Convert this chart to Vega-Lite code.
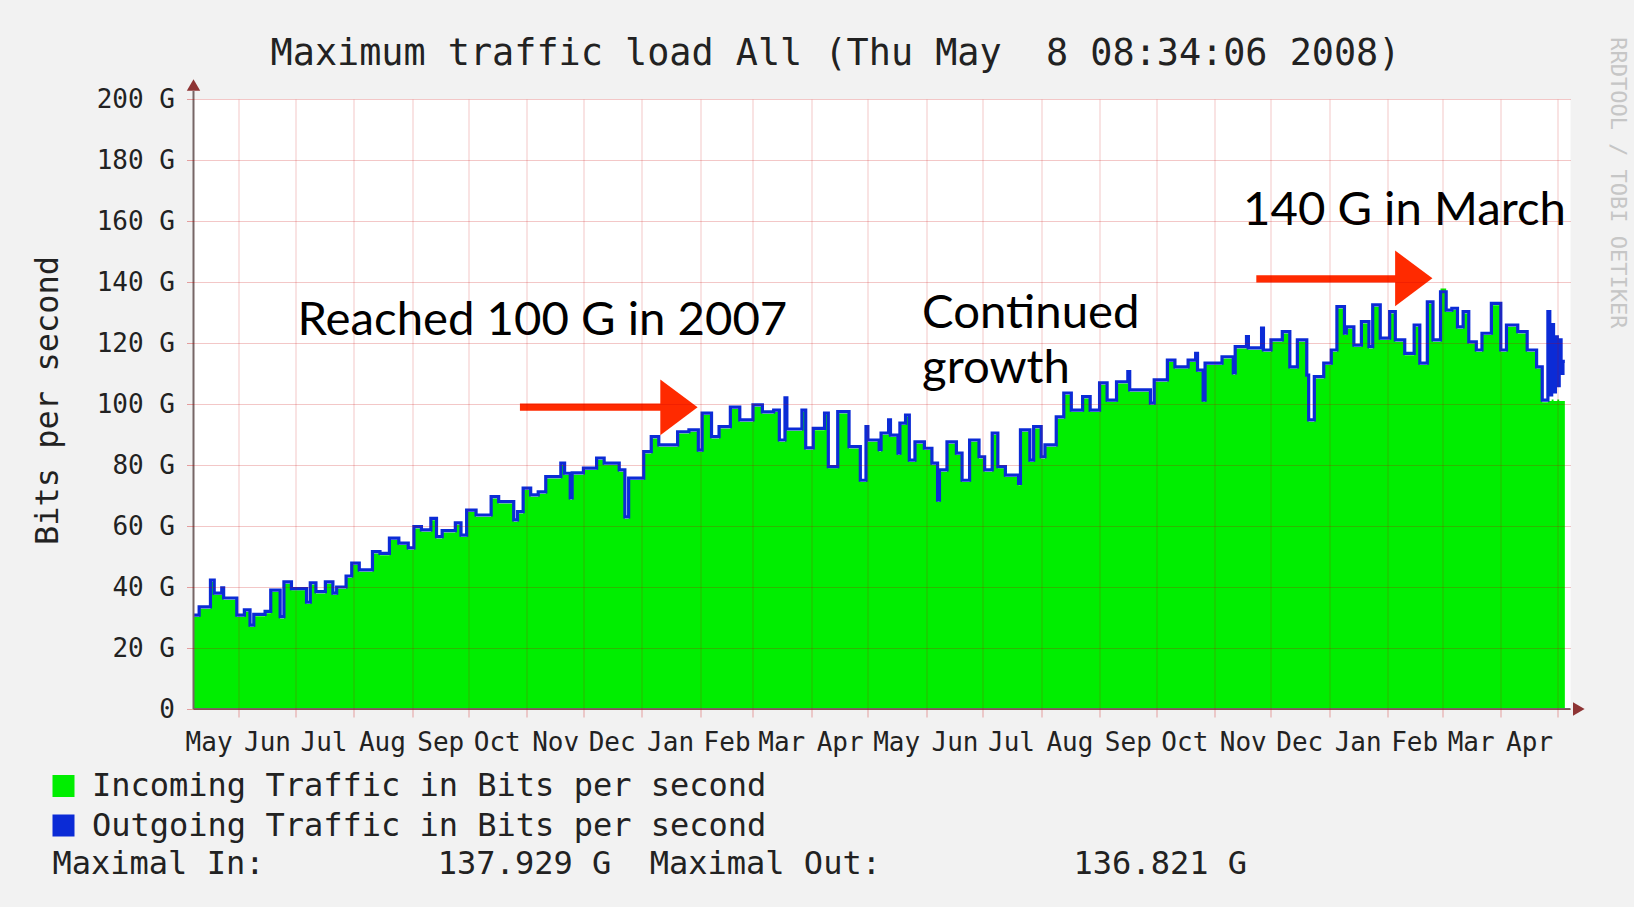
{
"$schema": "https://vega.github.io/schema/vega-lite/v6.json",
"width": 1377,
"height": 610,
"autosize": {"type": "none"},
"padding": {"left": 193.5, "top": 99, "right": 63.5, "bottom": 198},
"background": "#f2f2f2",
"config": {"view": {"fill": "#ffffff", "stroke": null}},
"title": {"text": "Maximum traffic load All (Thu May\u00a0 8 08:34:06 2008)", "font": "DejaVu Sans Mono", "fontSize": 36.8, "fontWeight": "normal", "color": "#222222", "anchor": "middle", "frame": "group", "dx": -46.5, "baseline": "alphabetic", "offset": -65},
"datasets": {
"traffic": [
{"date":"2006-05-08","incoming":30.2,"outgoing":30.8},
{"date":"2006-05-11","incoming":32.9,"outgoing":33.5},
{"date":"2006-05-17","incoming":41.7,"outgoing":42.3},
{"date":"2006-05-19","incoming":37.4,"outgoing":38.0},
{"date":"2006-05-23","incoming":39.1,"outgoing":39.7},
{"date":"2006-05-24","incoming":35.8,"outgoing":36.4},
{"date":"2006-05-31","incoming":30.2,"outgoing":30.8},
{"date":"2006-06-04","incoming":31.9,"outgoing":32.5},
{"date":"2006-06-07","incoming":26.9,"outgoing":27.5},
{"date":"2006-06-09","incoming":30.4,"outgoing":31.0},
{"date":"2006-06-15","incoming":31.4,"outgoing":32.0},
{"date":"2006-06-18","incoming":38.4,"outgoing":39.0},
{"date":"2006-06-23","incoming":29.7,"outgoing":30.3},
{"date":"2006-06-25","incoming":41.1,"outgoing":41.7},
{"date":"2006-06-29","incoming":38.9,"outgoing":39.5},
{"date":"2006-07-07","incoming":34.4,"outgoing":35.0},
{"date":"2006-07-09","incoming":40.8,"outgoing":41.4},
{"date":"2006-07-12","incoming":37.9,"outgoing":38.5},
{"date":"2006-07-17","incoming":41.1,"outgoing":41.7},
{"date":"2006-07-21","incoming":37.4,"outgoing":38.0},
{"date":"2006-07-23","incoming":39.4,"outgoing":40.0},
{"date":"2006-07-28","incoming":43.0,"outgoing":43.6},
{"date":"2006-07-31","incoming":47.2,"outgoing":47.8},
{"date":"2006-08-04","incoming":45.0,"outgoing":45.6},
{"date":"2006-08-11","incoming":51.0,"outgoing":51.6},
{"date":"2006-08-15","incoming":50.4,"outgoing":51.0},
{"date":"2006-08-20","incoming":55.4,"outgoing":56.0},
{"date":"2006-08-25","incoming":53.8,"outgoing":54.4},
{"date":"2006-08-30","incoming":52.2,"outgoing":52.8},
{"date":"2006-09-02","incoming":59.2,"outgoing":59.8},
{"date":"2006-09-06","incoming":58.1,"outgoing":58.7},
{"date":"2006-09-11","incoming":61.9,"outgoing":62.5},
{"date":"2006-09-14","incoming":55.9,"outgoing":56.5},
{"date":"2006-09-17","incoming":57.9,"outgoing":58.5},
{"date":"2006-09-24","incoming":60.4,"outgoing":61.0},
{"date":"2006-09-27","incoming":56.4,"outgoing":57.0},
{"date":"2006-09-30","incoming":64.6,"outgoing":65.2},
{"date":"2006-10-05","incoming":63.0,"outgoing":63.6},
{"date":"2006-10-13","incoming":69.0,"outgoing":69.6},
{"date":"2006-10-17","incoming":67.4,"outgoing":68.0},
{"date":"2006-10-25","incoming":61.4,"outgoing":62.0},
{"date":"2006-10-27","incoming":64.1,"outgoing":64.7},
{"date":"2006-10-30","incoming":71.8,"outgoing":72.4},
{"date":"2006-11-03","incoming":69.6,"outgoing":70.2},
{"date":"2006-11-07","incoming":70.6,"outgoing":71.2},
{"date":"2006-11-11","incoming":75.6,"outgoing":76.2},
{"date":"2006-11-19","incoming":80.0,"outgoing":80.6},
{"date":"2006-11-21","incoming":76.7,"outgoing":77.3},
{"date":"2006-11-24","incoming":68.6,"outgoing":69.2},
{"date":"2006-11-25","incoming":76.8,"outgoing":77.4},
{"date":"2006-12-01","incoming":78.4,"outgoing":79.0},
{"date":"2006-12-08","incoming":81.7,"outgoing":82.3},
{"date":"2006-12-12","incoming":80.0,"outgoing":80.6},
{"date":"2006-12-20","incoming":77.8,"outgoing":78.4},
{"date":"2006-12-23","incoming":62.4,"outgoing":63.0},
{"date":"2006-12-25","incoming":75.1,"outgoing":75.7},
{"date":"2007-01-02","incoming":83.8,"outgoing":84.4},
{"date":"2007-01-06","incoming":88.7,"outgoing":89.3},
{"date":"2007-01-10","incoming":86.0,"outgoing":86.6},
{"date":"2007-01-20","incoming":90.3,"outgoing":90.9},
{"date":"2007-01-26","incoming":90.9,"outgoing":91.5},
{"date":"2007-01-31","incoming":84.3,"outgoing":84.9},
{"date":"2007-02-02","incoming":96.4,"outgoing":97.0},
{"date":"2007-02-07","incoming":88.7,"outgoing":89.3},
{"date":"2007-02-11","incoming":92.0,"outgoing":92.6},
{"date":"2007-02-17","incoming":98.4,"outgoing":99.0},
{"date":"2007-02-22","incoming":94.2,"outgoing":94.8},
{"date":"2007-03-01","incoming":99.1,"outgoing":99.7},
{"date":"2007-03-06","incoming":96.8,"outgoing":97.4},
{"date":"2007-03-12","incoming":97.4,"outgoing":98.0},
{"date":"2007-03-15","incoming":87.6,"outgoing":88.2},
{"date":"2007-03-18","incoming":101.4,"outgoing":102.0},
{"date":"2007-03-19","incoming":91.2,"outgoing":91.8},
{"date":"2007-03-27","incoming":97.4,"outgoing":98.0},
{"date":"2007-03-29","incoming":85.0,"outgoing":85.6},
{"date":"2007-04-02","incoming":91.4,"outgoing":92.0},
{"date":"2007-04-08","incoming":96.4,"outgoing":97.0},
{"date":"2007-04-10","incoming":78.9,"outgoing":79.5},
{"date":"2007-04-15","incoming":96.9,"outgoing":97.5},
{"date":"2007-04-21","incoming":85.4,"outgoing":86.0},
{"date":"2007-04-27","incoming":74.4,"outgoing":75.0},
{"date":"2007-04-30","incoming":92.0,"outgoing":92.6},
{"date":"2007-05-01","incoming":87.6,"outgoing":88.2},
{"date":"2007-05-07","incoming":84.4,"outgoing":85.0},
{"date":"2007-05-08","incoming":89.9,"outgoing":90.5},
{"date":"2007-05-12","incoming":94.2,"outgoing":94.8},
{"date":"2007-05-13","incoming":89.2,"outgoing":89.8},
{"date":"2007-05-17","incoming":83.3,"outgoing":83.9},
{"date":"2007-05-18","incoming":93.1,"outgoing":93.7},
{"date":"2007-05-21","incoming":95.8,"outgoing":96.4},
{"date":"2007-05-23","incoming":81.0,"outgoing":81.6},
{"date":"2007-05-26","incoming":87.0,"outgoing":87.6},
{"date":"2007-05-31","incoming":84.9,"outgoing":85.5},
{"date":"2007-06-04","incoming":80.0,"outgoing":80.6},
{"date":"2007-06-07","incoming":67.9,"outgoing":68.5},
{"date":"2007-06-08","incoming":77.8,"outgoing":78.4},
{"date":"2007-06-12","incoming":87.0,"outgoing":87.6},
{"date":"2007-06-17","incoming":83.3,"outgoing":83.9},
{"date":"2007-06-20","incoming":74.4,"outgoing":75.0},
{"date":"2007-06-24","incoming":87.6,"outgoing":88.2},
{"date":"2007-06-29","incoming":82.1,"outgoing":82.7},
{"date":"2007-07-02","incoming":77.8,"outgoing":78.4},
{"date":"2007-07-06","incoming":89.9,"outgoing":90.5},
{"date":"2007-07-09","incoming":78.9,"outgoing":79.5},
{"date":"2007-07-13","incoming":76.1,"outgoing":76.7},
{"date":"2007-07-20","incoming":73.4,"outgoing":74.0},
{"date":"2007-07-21","incoming":90.9,"outgoing":91.5},
{"date":"2007-07-26","incoming":81.0,"outgoing":81.6},
{"date":"2007-07-28","incoming":92.0,"outgoing":92.6},
{"date":"2007-08-01","incoming":82.1,"outgoing":82.7},
{"date":"2007-08-03","incoming":86.0,"outgoing":86.6},
{"date":"2007-08-09","incoming":95.2,"outgoing":95.8},
{"date":"2007-08-13","incoming":103.0,"outgoing":103.6},
{"date":"2007-08-17","incoming":97.4,"outgoing":98.0},
{"date":"2007-08-23","incoming":101.8,"outgoing":102.4},
{"date":"2007-08-27","incoming":97.4,"outgoing":98.0},
{"date":"2007-09-01","incoming":106.3,"outgoing":106.9},
{"date":"2007-09-05","incoming":100.7,"outgoing":101.3},
{"date":"2007-09-10","incoming":106.7,"outgoing":107.3},
{"date":"2007-09-16","incoming":110.0,"outgoing":110.6},
{"date":"2007-09-17","incoming":104.0,"outgoing":104.6},
{"date":"2007-09-28","incoming":99.7,"outgoing":100.3},
{"date":"2007-09-30","incoming":107.3,"outgoing":107.9},
{"date":"2007-10-07","incoming":113.8,"outgoing":114.4},
{"date":"2007-10-11","incoming":111.6,"outgoing":112.2},
{"date":"2007-10-18","incoming":113.8,"outgoing":114.4},
{"date":"2007-10-22","incoming":116.0,"outgoing":116.6},
{"date":"2007-10-23","incoming":110.5,"outgoing":111.1},
{"date":"2007-10-26","incoming":100.7,"outgoing":101.3},
{"date":"2007-10-27","incoming":112.8,"outgoing":113.4},
{"date":"2007-11-05","incoming":114.9,"outgoing":115.5},
{"date":"2007-11-11","incoming":109.6,"outgoing":110.2},
{"date":"2007-11-12","incoming":118.2,"outgoing":118.8},
{"date":"2007-11-18","incoming":121.5,"outgoing":122.1},
{"date":"2007-11-19","incoming":117.8,"outgoing":118.4},
{"date":"2007-11-26","incoming":124.3,"outgoing":124.9},
{"date":"2007-11-27","incoming":117.1,"outgoing":117.7},
{"date":"2007-12-01","incoming":120.4,"outgoing":121.0},
{"date":"2007-12-07","incoming":123.1,"outgoing":123.7},
{"date":"2007-12-11","incoming":111.6,"outgoing":112.2},
{"date":"2007-12-15","incoming":120.4,"outgoing":121.0},
{"date":"2007-12-20","incoming":108.9,"outgoing":109.5},
{"date":"2007-12-21","incoming":94.2,"outgoing":94.8},
{"date":"2007-12-24","incoming":108.4,"outgoing":109.0},
{"date":"2007-12-29","incoming":112.8,"outgoing":113.4},
{"date":"2008-01-02","incoming":117.1,"outgoing":117.7},
{"date":"2008-01-05","incoming":131.3,"outgoing":131.9},
{"date":"2008-01-09","incoming":122.6,"outgoing":123.2},
{"date":"2008-01-10","incoming":124.7,"outgoing":125.3},
{"date":"2008-01-14","incoming":118.7,"outgoing":119.3},
{"date":"2008-01-18","incoming":126.4,"outgoing":127.0},
{"date":"2008-01-22","incoming":118.2,"outgoing":118.8},
{"date":"2008-01-24","incoming":131.9,"outgoing":132.5},
{"date":"2008-01-28","incoming":121.0,"outgoing":121.6},
{"date":"2008-02-02","incoming":129.7,"outgoing":130.3},
{"date":"2008-02-05","incoming":120.4,"outgoing":121.0},
{"date":"2008-02-10","incoming":116.0,"outgoing":116.6},
{"date":"2008-02-15","incoming":125.3,"outgoing":125.9},
{"date":"2008-02-18","incoming":112.8,"outgoing":113.4},
{"date":"2008-02-22","incoming":132.9,"outgoing":133.5},
{"date":"2008-02-25","incoming":120.4,"outgoing":121.0},
{"date":"2008-02-29","incoming":137.9,"outgoing":136.8},
{"date":"2008-03-03","incoming":130.2,"outgoing":130.8},
{"date":"2008-03-06","incoming":130.8,"outgoing":131.4},
{"date":"2008-03-09","incoming":124.7,"outgoing":125.3},
{"date":"2008-03-12","incoming":129.7,"outgoing":130.3},
{"date":"2008-03-15","incoming":119.8,"outgoing":120.4},
{"date":"2008-03-19","incoming":117.1,"outgoing":117.7},
{"date":"2008-03-22","incoming":122.6,"outgoing":123.2},
{"date":"2008-03-27","incoming":132.4,"outgoing":133.0},
{"date":"2008-04-01","incoming":117.1,"outgoing":117.7},
{"date":"2008-04-04","incoming":125.3,"outgoing":125.9},
{"date":"2008-04-10","incoming":123.1,"outgoing":123.7},
{"date":"2008-04-15","incoming":117.1,"outgoing":117.7},
{"date":"2008-04-20","incoming":111.6,"outgoing":112.2},
{"date":"2008-04-23","incoming":100.6,"outgoing":101.3},
{"date":"2008-04-26","incoming":101.0,"outgoing":130.3},
{"date":"2008-04-27","incoming":101.0,"outgoing":103.0},
{"date":"2008-04-28","incoming":101.5,"outgoing":126.0},
{"date":"2008-04-29","incoming":101.0,"outgoing":104.0},
{"date":"2008-04-30","incoming":101.0,"outgoing":122.0},
{"date":"2008-05-01","incoming":101.5,"outgoing":106.0},
{"date":"2008-05-02","incoming":101.0,"outgoing":121.0},
{"date":"2008-05-03","incoming":101.0,"outgoing":110.0},
{"date":"2008-05-04","incoming":101.0,"outgoing":114.0},
{"date":"2008-05-05","incoming":101.0,"outgoing":114.0}
],
"axislines": [
{"date":"2006-05-08","date2":"2008-05-08","value":0,"value2":0},
{"date":"2006-05-08","date2":"2006-05-08","value":0,"value2":202.6}
],
"axisarrows": [
{"date":"2006-05-08","value":204.6,"dir":"up"},
{"date":"2008-05-12T10:00","value":0,"dir":"right"}
],
"shafts": [
{"date":"2006-10-28T07:00","date2":"2007-01-13T07:00","value":99.0},
{"date":"2007-11-23T05:00","date2":"2008-02-07T10:00","value":141.0}
],
"heads": [
{"date":"2007-01-20T17:00","value":98.9},
{"date":"2008-02-14T19:00","value":141.2}
],
"notes": [
{"date":"2006-07-02T05:00","value":122.6,"label":"Reached 100 G in 2007"},
{"date":"2007-05-29T19:00","value":124.8,"label":"Continued"},
{"date":"2007-05-29T19:00","value":106.9,"label":"growth"},
{"date":"2007-11-16T04:00","value":158.8,"label":"140 G in March"}
],
"watermark": [
{"date":"2008-06-02","value":172.5,"label":"RRDTOOL / TOBI OETIKER"}
]
},
"layer": [
{
"data": {"name": "traffic"},
"mark": {"type": "area", "interpolate": "step-after", "line": false, "opacity": 1},
"encoding": {
"x": {"field": "date", "type": "temporal",
"scale": {"domain": [{"year":2006,"month":5,"date":8},{"year":2008,"month":5,"date":8}], "nice": false},
"axis": {"orient": "bottom", "values": [{"year":2006,"month":6,"date":1},{"year":2006,"month":7,"date":1},{"year":2006,"month":8,"date":1},{"year":2006,"month":9,"date":1},{"year":2006,"month":10,"date":1},{"year":2006,"month":11,"date":1},{"year":2006,"month":12,"date":1},{"year":2007,"month":1,"date":1},{"year":2007,"month":2,"date":1},{"year":2007,"month":3,"date":1},{"year":2007,"month":4,"date":1},{"year":2007,"month":5,"date":1},{"year":2007,"month":6,"date":1},{"year":2007,"month":7,"date":1},{"year":2007,"month":8,"date":1},{"year":2007,"month":9,"date":1},{"year":2007,"month":10,"date":1},{"year":2007,"month":11,"date":1},{"year":2007,"month":12,"date":1},{"year":2008,"month":1,"date":1},{"year":2008,"month":2,"date":1},{"year":2008,"month":3,"date":1},{"year":2008,"month":4,"date":1},{"year":2008,"month":5,"date":1}],
"grid": true, "gridColor": "#c80000", "gridOpacity": 0.22, "gridWidth": 1, "labels": false, "ticks": true, "tickSize": 8, "tickColor": "#c80000", "tickOpacity": 0.35, "tickWidth": 1, "domain": false, "title": null, "zindex": 1}},
"y": {"field": "incoming", "type": "quantitative", "scale": {"domain": [0, 200], "nice": false, "zero": false},
"axis": {"values": [0,10,20,30,40,50,60,70,80,90,100,110,120,130,140,150,160,170,180,190,200], "grid": true, "gridColor": "#c80000", "gridOpacity": 0.22, "gridWidth": 1, "ticks": true, "tickSize": 7, "tickColor": "#c80000", "tickOpacity": 0.35, "domain": false,
"labelExpr": "datum.value % 20 == 0 ? (datum.value == 0 ? '0' : datum.value + ' G') : ''",
"labelFont": "DejaVu Sans Mono", "labelFontSize": 26, "labelColor": "#222222", "labelPadding": 12, "labelFlush": false, "labelOverlap": false, "labelBaseline": "middle",
"title": "Bits per second", "titleFont": "DejaVu Sans Mono", "titleFontSize": 32, "titleFontWeight": "normal", "titleColor": "#222222", "titleAngle": -90, "titleX": -146, "titleY": 301, "titleAlign": "center", "titleBaseline": "middle", "zindex": 1}},
"color": {"datum": "Incoming Traffic in Bits per second",
"scale": {"domain": ["Incoming Traffic in Bits per second", "Outgoing Traffic in Bits per second"], "range": ["#00ee00", "#0b2bd6"]},
"legend": {"orient": "none", "legendX": -146, "legendY": 671, "title": null, "direction": "vertical", "symbolType": "square", "symbolSize": 420, "symbolStrokeWidth": 1.5, "symbolStrokeColor": "#1a1a1a", "labelFont": "DejaVu Sans Mono", "labelFontSize": 32, "labelColor": "#222222", "labelLimit": 2000, "labelOffset": 12.5, "rowPadding": 7.5, "padding": 0,
"encode": {"symbols": {"update": {"fill": {"scale": "color", "field": "value"}, "stroke": {"value": "#1a1a1a"}, "strokeWidth": {"value": 1.5}, "shape": {"value": "square"}, "opacity": {"value": 1}}}}}}
}
},
{
"data": {"name": "traffic"},
"mark": {"type": "line", "interpolate": "step-after", "strokeWidth": 3.2},
"encoding": {
"x": {"field": "date", "type": "temporal", "scale": {"domain": [{"year":2006,"month":5,"date":8},{"year":2008,"month":5,"date":8}], "nice": false}, "axis": null},
"y": {"field": "outgoing", "type": "quantitative", "scale": {"domain": [0, 200], "nice": false, "zero": false}},
"color": {"datum": "Outgoing Traffic in Bits per second"}
}
},
{
"data": {"name": "axislines"},
"mark": {"type": "rule", "color": "#776666", "strokeWidth": 2},
"encoding": {
"x": {"field": "date", "type": "temporal", "scale": {"domain": [{"year":2006,"month":5,"date":8},{"year":2008,"month":5,"date":8}], "nice": false},
"axis": {"orient": "bottom", "values": [{"year":2006,"month":5,"date":16},{"year":2006,"month":6,"date":16},{"year":2006,"month":7,"date":16},{"year":2006,"month":8,"date":16},{"year":2006,"month":9,"date":16},{"year":2006,"month":10,"date":16},{"year":2006,"month":11,"date":16},{"year":2006,"month":12,"date":16},{"year":2007,"month":1,"date":16},{"year":2007,"month":2,"date":15},{"year":2007,"month":3,"date":16},{"year":2007,"month":4,"date":16},{"year":2007,"month":5,"date":16},{"year":2007,"month":6,"date":16},{"year":2007,"month":7,"date":16},{"year":2007,"month":8,"date":16},{"year":2007,"month":9,"date":16},{"year":2007,"month":10,"date":16},{"year":2007,"month":11,"date":16},{"year":2007,"month":12,"date":16},{"year":2008,"month":1,"date":16},{"year":2008,"month":2,"date":15},{"year":2008,"month":3,"date":16},{"year":2008,"month":4,"date":16}],
"format": "%b", "formatType": "time", "grid": false, "ticks": false, "tickSize": 0, "domain": false,
"labelFont": "DejaVu Sans Mono", "labelFontSize": 26, "labelColor": "#222222", "labelPadding": 41, "labelBaseline": "alphabetic", "labelAlign": "center", "labelFlush": false, "labelOverlap": false, "labelBound": false,
"title": "Maximal In:\u00a0\u00a0\u00a0\u00a0\u00a0\u00a0\u00a0\u00a0\u00a0137.929 G\u00a0\u00a0Maximal Out:\u00a0\u00a0\u00a0\u00a0\u00a0\u00a0\u00a0\u00a0\u00a0\u00a0136.821 G",
"titleFont": "DejaVu Sans Mono", "titleFontSize": 32, "titleFontWeight": "normal", "titleColor": "#222222", "titleX": -141.5, "titleY": 164, "titleAlign": "left", "titleAnchor": "start", "titleBaseline": "alphabetic", "titleLimit": 2000}},
"x2": {"field": "date2"},
"y": {"field": "value", "type": "quantitative", "scale": {"domain": [0, 200], "nice": false, "zero": false}},
"y2": {"field": "value2"}
}
},
{
"data": {"name": "axisarrows"},
"mark": {"type": "point", "filled": true, "opacity": 1, "size": 180, "color": "#8e3434", "strokeWidth": 0},
"encoding": {
"x": {"field": "date", "type": "temporal", "scale": {"domain": [{"year":2006,"month":5,"date":8},{"year":2008,"month":5,"date":8}], "nice": false}, "axis": null},
"y": {"field": "value", "type": "quantitative", "scale": {"domain": [0, 200], "nice": false, "zero": false}},
"shape": {"field": "dir", "type": "nominal", "scale": {"domain": ["up", "right"], "range": ["triangle-up", "triangle-right"]}, "legend": null}
}
},
{
"data": {"name": "shafts"},
"mark": {"type": "rule", "color": "#ff2a00", "strokeWidth": 7.3},
"encoding": {
"x": {"field": "date", "type": "temporal", "scale": {"domain": [{"year":2006,"month":5,"date":8},{"year":2008,"month":5,"date":8}], "nice": false}, "axis": null},
"x2": {"field": "date2"},
"y": {"field": "value", "type": "quantitative", "scale": {"domain": [0, 200], "nice": false, "zero": false}}
}
},
{
"data": {"name": "heads"},
"mark": {"type": "point", "filled": true, "opacity": 1, "size": 3100, "color": "#ff2a00", "strokeWidth": 0, "shape": "M-0.67,-1L0.67,0L-0.67,1Z"},
"encoding": {
"x": {"field": "date", "type": "temporal", "scale": {"domain": [{"year":2006,"month":5,"date":8},{"year":2008,"month":5,"date":8}], "nice": false}, "axis": null},
"y": {"field": "value", "type": "quantitative", "scale": {"domain": [0, 200], "nice": false, "zero": false}}
}
},
{
"data": {"name": "notes"},
"mark": {"type": "text", "font": "Lato", "fontSize": 47.3, "color": "#000000", "align": "left", "baseline": "alphabetic"},
"encoding": {
"x": {"field": "date", "type": "temporal", "scale": {"domain": [{"year":2006,"month":5,"date":8},{"year":2008,"month":5,"date":8}], "nice": false}, "axis": null},
"y": {"field": "value", "type": "quantitative", "scale": {"domain": [0, 200], "nice": false, "zero": false}},
"text": {"field": "label"}
}
},
{
"data": {"name": "watermark"},
"mark": {"type": "text", "font": "DejaVu Sans Mono", "fontSize": 22, "color": "#c6c6c6", "angle": 90, "align": "center", "baseline": "middle"},
"encoding": {
"x": {"field": "date", "type": "temporal", "scale": {"domain": [{"year":2006,"month":5,"date":8},{"year":2008,"month":5,"date":8}], "nice": false}, "axis": null},
"y": {"field": "value", "type": "quantitative", "scale": {"domain": [0, 200], "nice": false, "zero": false}},
"text": {"field": "label"}
}
}
],
"resolve": {"axis": {"x": "independent"}}
}
